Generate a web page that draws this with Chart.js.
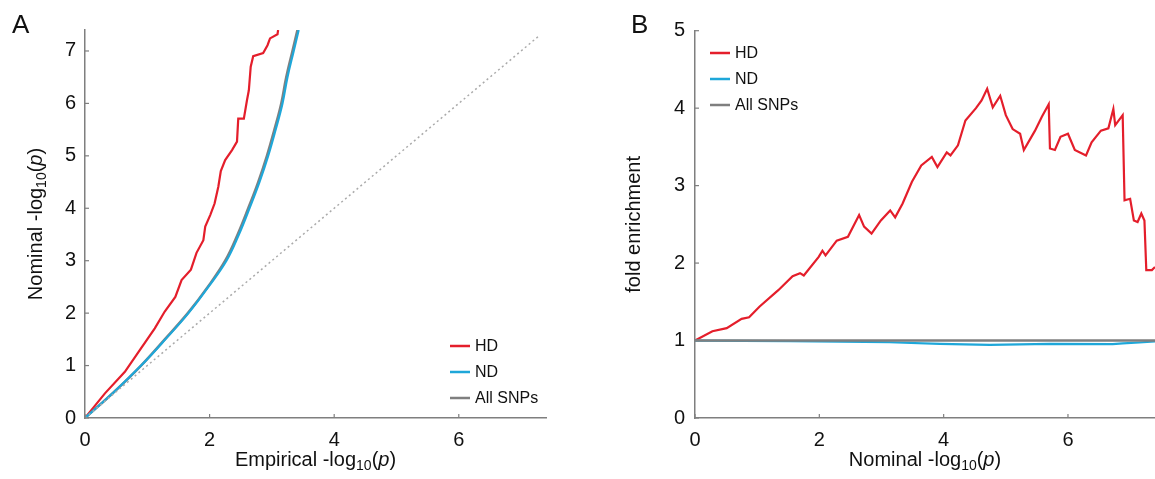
<!DOCTYPE html>
<html>
<head>
<meta charset="utf-8">
<script src="https://cdn.jsdelivr.net/npm/chart.js@4.4.0/dist/chart.umd.min.js"></script>
<style>
  body { margin: 0; background: #fff; }
  #wrap { position: relative; width: 1155px; height: 479px; overflow: hidden; }
  #chartA { position: absolute; left: 0; top: 0; }
  #chartB { position: absolute; left: 600px; top: 0; }
</style>
</head>
<body>
<div id="wrap">
  <canvas id="chartA" width="600" height="479"></canvas>
  <canvas id="chartB" width="555" height="479"></canvas>
</div>
<script>
// ---- panel A: nominal vs empirical -log10(p)
const hdEmpX = [0, 0.32, 0.64, 0.86, 1.12, 1.28, 1.45, 1.55, 1.70, 1.79, 1.90, 1.93, 2.01, 2.08, 2.14, 2.18, 2.25, 2.36, 2.44, 2.46, 2.55, 2.60, 2.63, 2.66, 2.70, 2.86, 2.93, 2.97, 3.09, 3.10];
const hdNomY = [0, 0.47, 0.88, 1.26, 1.71, 2.03, 2.31, 2.63, 2.83, 3.15, 3.39, 3.65, 3.87, 4.09, 4.41, 4.71, 4.92, 5.11, 5.27, 5.71, 5.71, 6.06, 6.25, 6.70, 6.90, 6.96, 7.11, 7.24, 7.32, 7.40];
const bgNomY = [0, 0.5, 1.0, 1.5, 2.0, 2.5, 3.0, 3.5, 4.0, 4.5, 5.0, 5.5, 6.0, 6.5, 7.0, 7.4];
const allEmpX = [0, 0.47, 0.90, 1.28, 1.65, 1.97, 2.25, 2.45, 2.62, 2.78, 2.92, 3.04, 3.15, 3.23, 3.33, 3.41];
const ndEmpX = [0, 0.47, 0.90, 1.29, 1.66, 1.98, 2.27, 2.47, 2.64, 2.80, 2.94, 3.06, 3.17, 3.25, 3.35, 3.43];
const diagA = [0, 7.3];

// ---- panel B: fold enrichment vs nominal -log10(p)
const hdNomX = [0, 0.28, 0.51, 0.75, 0.87, 1.04, 1.34, 1.57, 1.69, 1.75, 1.99, 2.05, 2.10, 2.28, 2.46, 2.64, 2.72, 2.84, 2.99, 3.14, 3.22, 3.34, 3.49, 3.64, 3.81, 3.90, 4.05, 4.11, 4.23, 4.35, 4.52, 4.61, 4.70, 4.79, 4.91, 5.00, 5.11, 5.23, 5.29, 5.47, 5.58, 5.69, 5.71, 5.79, 5.88, 6.00, 6.11, 6.29, 6.38, 6.53, 6.65, 6.73, 6.76, 6.88, 6.91, 7.00, 7.06, 7.12, 7.18, 7.23, 7.26, 7.35, 7.40];
const hdFold = [1.0, 1.12, 1.16, 1.28, 1.30, 1.44, 1.65, 1.83, 1.87, 1.84, 2.08, 2.16, 2.10, 2.29, 2.34, 2.62, 2.47, 2.38, 2.55, 2.68, 2.59, 2.77, 3.05, 3.26, 3.37, 3.24, 3.43, 3.39, 3.52, 3.84, 4.00, 4.10, 4.25, 4.01, 4.16, 3.91, 3.73, 3.67, 3.46, 3.71, 3.89, 4.05, 3.48, 3.46, 3.63, 3.67, 3.46, 3.39, 3.56, 3.71, 3.74, 3.99, 3.78, 3.91, 2.81, 2.83, 2.55, 2.53, 2.64, 2.55, 1.91, 1.91, 1.95];
const ndNomX = [0, 1.53, 3.13, 3.94, 4.74, 5.71, 6.72, 6.88, 7.15, 7.40];
const ndFold = [1.0, 0.993, 0.978, 0.958, 0.945, 0.958, 0.953, 0.963, 0.975, 0.99];
const allNomX = [0, 7.4];
const allFold = [1.0, 1.0];

const seriesNames = ['HD', 'ND', 'All SNPs'];
const RED = '#e41e2b', CYAN = '#1ea7d9', GREY = '#7f7f7f';
const FONT = '"Liberation Sans", Arial, sans-serif';
const INK = '#111';

function pts(xs, ys) {
  return xs.map((x, i) => ({ x: x, y: ys[i] }));
}

function line(label, data, color, width) {
  return { label: label, data: data, borderColor: color, backgroundColor: color,
           borderWidth: width, pointRadius: 0, showLine: true, tension: 0 };
}

// axis titles with subscript 10 and italic p
function drawLogTitle(ctx, prefix, cx, cy, rotate) {
  const big = '20px ' + FONT, small = '14px ' + FONT, ital = 'italic 20px ' + FONT;
  const parts = [[prefix + ' -log', big, 0], ['10', small, 6], ['(', big, 0], ['p', ital, 0], [')', big, 0]];
  ctx.save();
  ctx.translate(cx, cy);
  if (rotate) ctx.rotate(-Math.PI / 2);
  let total = 0;
  parts.forEach(p => { ctx.font = p[1]; total += ctx.measureText(p[0]).width; });
  let x = -total / 2;
  ctx.fillStyle = INK;
  ctx.textBaseline = 'middle';
  parts.forEach(p => {
    ctx.font = p[1];
    ctx.fillText(p[0], x, p[2]);
    x += ctx.measureText(p[0]).width;
  });
  ctx.restore();
}

// inward tick marks, titles, panel letter, legend
const decor = {
  id: 'decor',
  afterDraw(chart, args, o) {
    const ctx = chart.ctx, a = chart.chartArea;
    const xs = chart.scales.x, ys = chart.scales.y;
    ctx.save();
    ctx.strokeStyle = GREY;
    ctx.lineWidth = 1.2;
    xs.ticks.forEach(t => {
      const px = xs.getPixelForValue(t.value);
      ctx.beginPath(); ctx.moveTo(px, a.bottom); ctx.lineTo(px, a.bottom - 4); ctx.stroke();
    });
    ys.ticks.forEach(t => {
      const py = ys.getPixelForValue(t.value);
      ctx.beginPath(); ctx.moveTo(a.left, py); ctx.lineTo(a.left + 4, py); ctx.stroke();
    });
    ctx.restore();

    if (o.xLog) drawLogTitle(ctx, o.xTitle, (a.left + a.right) / 2, a.bottom + 42, false);
    if (o.yLog) {
      drawLogTitle(ctx, o.yTitle, a.left - o.yTitleGap, (a.top + a.bottom) / 2, true);
    } else {
      ctx.save();
      ctx.translate(a.left - o.yTitleGap, (a.top + a.bottom) / 2);
      ctx.rotate(-Math.PI / 2);
      ctx.font = '20px ' + FONT;
      ctx.fillStyle = INK;
      ctx.textAlign = 'center';
      ctx.textBaseline = 'middle';
      ctx.fillText(o.yTitle, 0, 0);
      ctx.restore();
    }

    ctx.save();
    ctx.font = '26px ' + FONT;
    ctx.fillStyle = INK;
    ctx.textBaseline = 'alphabetic';
    ctx.fillText(o.letter, o.letterX, 33);
    ctx.restore();

    // legend
    ctx.save();
    ctx.font = '16px ' + FONT;
    ctx.textBaseline = 'middle';
    o.legend.forEach((it, i) => {
      const y = o.legY + i * 26;
      ctx.strokeStyle = it.color;
      ctx.lineWidth = 2.5;
      ctx.beginPath(); ctx.moveTo(o.legX, y); ctx.lineTo(o.legX + 20, y); ctx.stroke();
      ctx.fillStyle = INK;
      ctx.fillText(it.name, o.legX + 25, y + 1);
    });
    ctx.restore();
  }
};

function axis(max, step, size, pad) {
  return {
    type: 'linear', min: 0, max: max,
    grid: { display: false, drawTicks: false },
    border: { display: true, color: GREY, width: 1.5 },
    ticks: { stepSize: step, includeBounds: false, padding: pad, color: INK,
             font: { family: FONT, size: 20 } },
    afterFit: size
  };
}

const legendItems = [
  { name: seriesNames[0], color: RED },
  { name: seriesNames[1], color: CYAN },
  { name: seriesNames[2], color: GREY }
];

new Chart(document.getElementById('chartA'), {
  type: 'scatter',
  data: {
    datasets: [
      Object.assign(line('diag', pts(diagA, diagA), '#aaaaaa', 1.5), { borderDash: [2, 3] }),
      Object.assign(line(seriesNames[1], pts(ndEmpX, bgNomY), CYAN, 2.2), { tension: 0.4 }),
      Object.assign(line(seriesNames[2], pts(allEmpX, bgNomY), GREY, 2.5), { tension: 0.4 }),
      line(seriesNames[0], pts(hdEmpX, hdNomY), RED, 2.2)
    ]
  },
  options: {
    responsive: false, animation: false,
    layout: { padding: { top: 30, right: 54, left: 0, bottom: 0 } },
    plugins: {
      legend: { display: false }, tooltip: { enabled: false },
      decor: { letter: 'A', letterX: 12, xLog: true, xTitle: 'Empirical', yLog: true, yTitle: 'Nominal',
               yTitleGap: 49, legend: legendItems, legX: 450, legY: 346 }
    },
    scales: {
      x: axis(7.4, 2, s => { s.height = 61; }, 10),
      y: axis(7.4, 1, s => { s.width = 85; }, 9)
    }
  },
  plugins: [decor]
});

new Chart(document.getElementById('chartB'), {
  type: 'scatter',
  data: {
    datasets: [
      line(seriesNames[2], pts(allNomX, allFold), GREY, 2.5),
      line(seriesNames[1], pts(ndNomX, ndFold), CYAN, 2.2),
      line(seriesNames[0], pts(hdNomX, hdFold), RED, 2.2)
    ]
  },
  options: {
    responsive: false, animation: false,
    layout: { padding: { top: 30.7, right: 0, left: 0, bottom: 0 } },
    plugins: {
      legend: { display: false }, tooltip: { enabled: false },
      decor: { letter: 'B', letterX: 31, xLog: true, xTitle: 'Nominal', yLog: false, yTitle: 'fold enrichment',
               yTitleGap: 61, legend: legendItems, legX: 110, legY: 53 }
    },
    scales: {
      x: axis(7.4, 2, s => { s.height = 61; }, 10),
      y: axis(5, 1, s => { s.width = 95; }, 10)
    }
  },
  plugins: [decor]
});
</script>
</body>
</html>
